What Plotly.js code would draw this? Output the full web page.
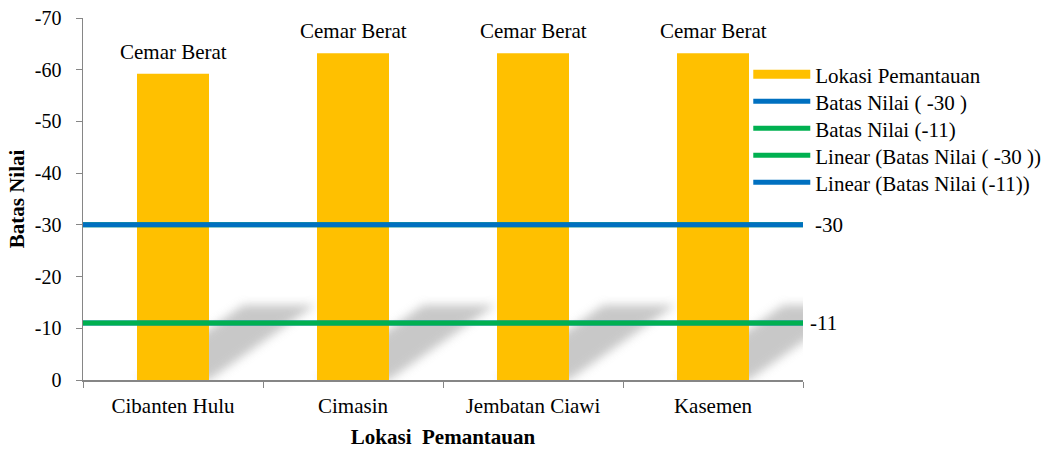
<!DOCTYPE html>
<html><head><meta charset="utf-8">
<script src="https://cdn.plot.ly/plotly-3.0.1.min.js"></script>
<style>html,body{margin:0;padding:0;background:#fff}#chart{width:1047px;height:449px}</style>
</head><body><div id="chart"></div>
<script>
const categories = ['Cibanten Hulu', 'Cimasin', 'Jembatan Ciawi', 'Kasemen'];
const values = [-59.2, -63.2, -63.2, -63.2];
const statusLabels = ['Cemar Berat', 'Cemar Berat', 'Cemar Berat', 'Cemar Berat'];
const limitHigh = -30;
const limitLow = -11;
const limitLabels = ['-30', '-11'];
const yTickVals = [0, -10, -20, -30, -40, -50, -60, -70];
const yTickText = ['0', '-10', '-20', '-30', '-40', '-50', '-60', '-70'];
const seriesNames = ['Lokasi Pemantauan', 'Batas Nilai ( -30 )', 'Batas Nilai (-11)',
  'Linear (Batas Nilai ( -30 ))', 'Linear (Batas Nilai (-11))'];

const FONT = "'Liberation Serif', serif";
const BLUE = '#0070C0', GREEN = '#00B050', GOLD = '#FFC000';
const n = categories.length;
const barW = 0.4;

const traces = [
  {type: 'bar', x: categories, y: values, width: barW, marker: {color: GOLD},
   name: seriesNames[0], showlegend: false, hoverinfo: 'x+y'},
  {type: 'scatter', mode: 'lines', x: [null], y: [null], xaxis: 'x2',
   line: {color: GOLD, width: 9}, name: seriesNames[0], legendrank: 1},
  {type: 'scatter', mode: 'lines', x: [0, 1], y: [limitHigh, limitHigh], xaxis: 'x2',
   line: {color: GREEN, width: 5}, name: seriesNames[3], legendrank: 4},
  {type: 'scatter', mode: 'lines', x: [0, 1], y: [limitLow, limitLow], xaxis: 'x2',
   line: {color: BLUE, width: 5}, name: seriesNames[4], legendrank: 5},
  {type: 'scatter', mode: 'lines', x: [0, 1], y: [limitHigh, limitHigh], xaxis: 'x2',
   line: {color: BLUE, width: 5}, name: seriesNames[1], legendrank: 2},
  {type: 'scatter', mode: 'lines', x: [0, 1], y: [limitLow, limitLow], xaxis: 'x2',
   line: {color: GREEN, width: 5}, name: seriesNames[2], legendrank: 3}
];

const shadowTop = -14.5, skew = 0.59;
const shapes = categories.map((c, i) => {
  const toX = v => (v + 0.5) / n;
  const l = i - barW / 2, r = i + barW / 2;
  return {type: 'path', xref: 'x2', yref: 'y', layer: 'below',
    path: `M${toX(l)},0 L${toX(r)},0 L${toX(r + skew)},${shadowTop} L${toX(l + skew)},${shadowTop} Z`,
    fillcolor: '#BFBFBF', opacity: 0.85, line: {width: 0}};
});

const annotations = categories.map((c, i) => ({
  x: c, y: values[i], xref: 'x', yref: 'y', text: statusLabels[i], showarrow: false,
  yanchor: 'bottom', yshift: 8, font: {family: FONT, size: 21, color: '#000'}
})).concat([
  {x: 1, y: limitHigh, xref: 'paper', yref: 'y', text: limitLabels[0], showarrow: false,
   xanchor: 'left', xshift: 10, font: {family: FONT, size: 21, color: '#000'}},
  {x: 1, y: limitLow, xref: 'paper', yref: 'y', text: limitLabels[1], showarrow: false,
   xanchor: 'left', xshift: 5, font: {family: FONT, size: 21, color: '#000'}}
]);

const layout = {
  width: 1047, height: 449,
  margin: {l: 83, r: 244, t: 18, b: 69, autoexpand: false},
  paper_bgcolor: '#fff', plot_bgcolor: 'rgba(0,0,0,0)',
  font: {family: FONT, size: 21, color: '#000'},
  showlegend: true,
  legend: {x: 0.924, xanchor: 'left', y: 0.9, yanchor: 'top', bgcolor: 'rgba(0,0,0,0)',
    font: {family: FONT, size: 21, color: '#000'}, itemwidth: 57, tracegroupgap: 0,
    traceorder: 'normal'},
  xaxis: {type: 'category', tickson: 'boundaries', ticks: 'outside', ticklen: 6,
    tickcolor: '#868686', showline: true, linecolor: '#868686', linewidth: 1.5,
    showgrid: false, zeroline: false, range: [-0.5, n - 0.5], automargin: false,
    tickfont: {family: FONT, size: 21}, ticklabelstandoff: 6,
    title: {text: '<b>Lokasi\u00a0\u00a0Pemantauan</b>', font: {family: FONT, size: 21}, standoff: 13}},
  xaxis2: {overlaying: 'x', range: [0, 1], visible: false, fixedrange: true},
  yaxis: {range: [0, -70], tickvals: yTickVals, ticktext: yTickText, ticks: 'outside',
    ticklen: 6, tickcolor: '#868686', showline: true, linecolor: '#868686', linewidth: 1.5,
    showgrid: false, zeroline: false, tickfont: {family: FONT, size: 20}, ticklabelstandoff: 10,
    automargin: false,
    title: {text: '<b>Batas Nilai</b>', font: {family: FONT, size: 21}, standoff: 4}},
  shapes: shapes,
  annotations: annotations,
  bargap: 0.6
};

Plotly.newPlot('chart', traces, layout, {displayModeBar: false, staticPlot: true}).then(gd => {
  const svg = gd.querySelector('svg.main-svg');
  const ns = 'http://www.w3.org/2000/svg';
  let defs = svg.querySelector('defs');
  if (!defs) { defs = document.createElementNS(ns, 'defs'); svg.insertBefore(defs, svg.firstChild); }
  const f = document.createElementNS(ns, 'filter');
  f.setAttribute('id', 'shadowBlur');
  f.setAttribute('x', '-30%'); f.setAttribute('y', '-30%');
  f.setAttribute('width', '160%'); f.setAttribute('height', '160%');
  const b = document.createElementNS(ns, 'feGaussianBlur');
  b.setAttribute('stdDeviation', '5');
  f.appendChild(b); defs.appendChild(f);
  gd.querySelectorAll('.shapelayer path').forEach(p => p.setAttribute('filter', 'url(#shadowBlur)'));
  const items = Array.from(gd.querySelectorAll('.legend .traces'));
  const parse = t => { const m = /translate\(\s*([-\d.]+)[ ,]+([-\d.]+)/.exec(t || ''); return m ? [+m[1], +m[2]] : [0, 0]; };
  if (items.length) {
    const p0 = parse(items[0].getAttribute('transform'));
    items.forEach((it, i) => {
      const p = parse(it.getAttribute('transform'));
      it.setAttribute('transform', `translate(${p[0]},${p0[1] + i * 27})`);
    });
  }
});
</script></body></html>
